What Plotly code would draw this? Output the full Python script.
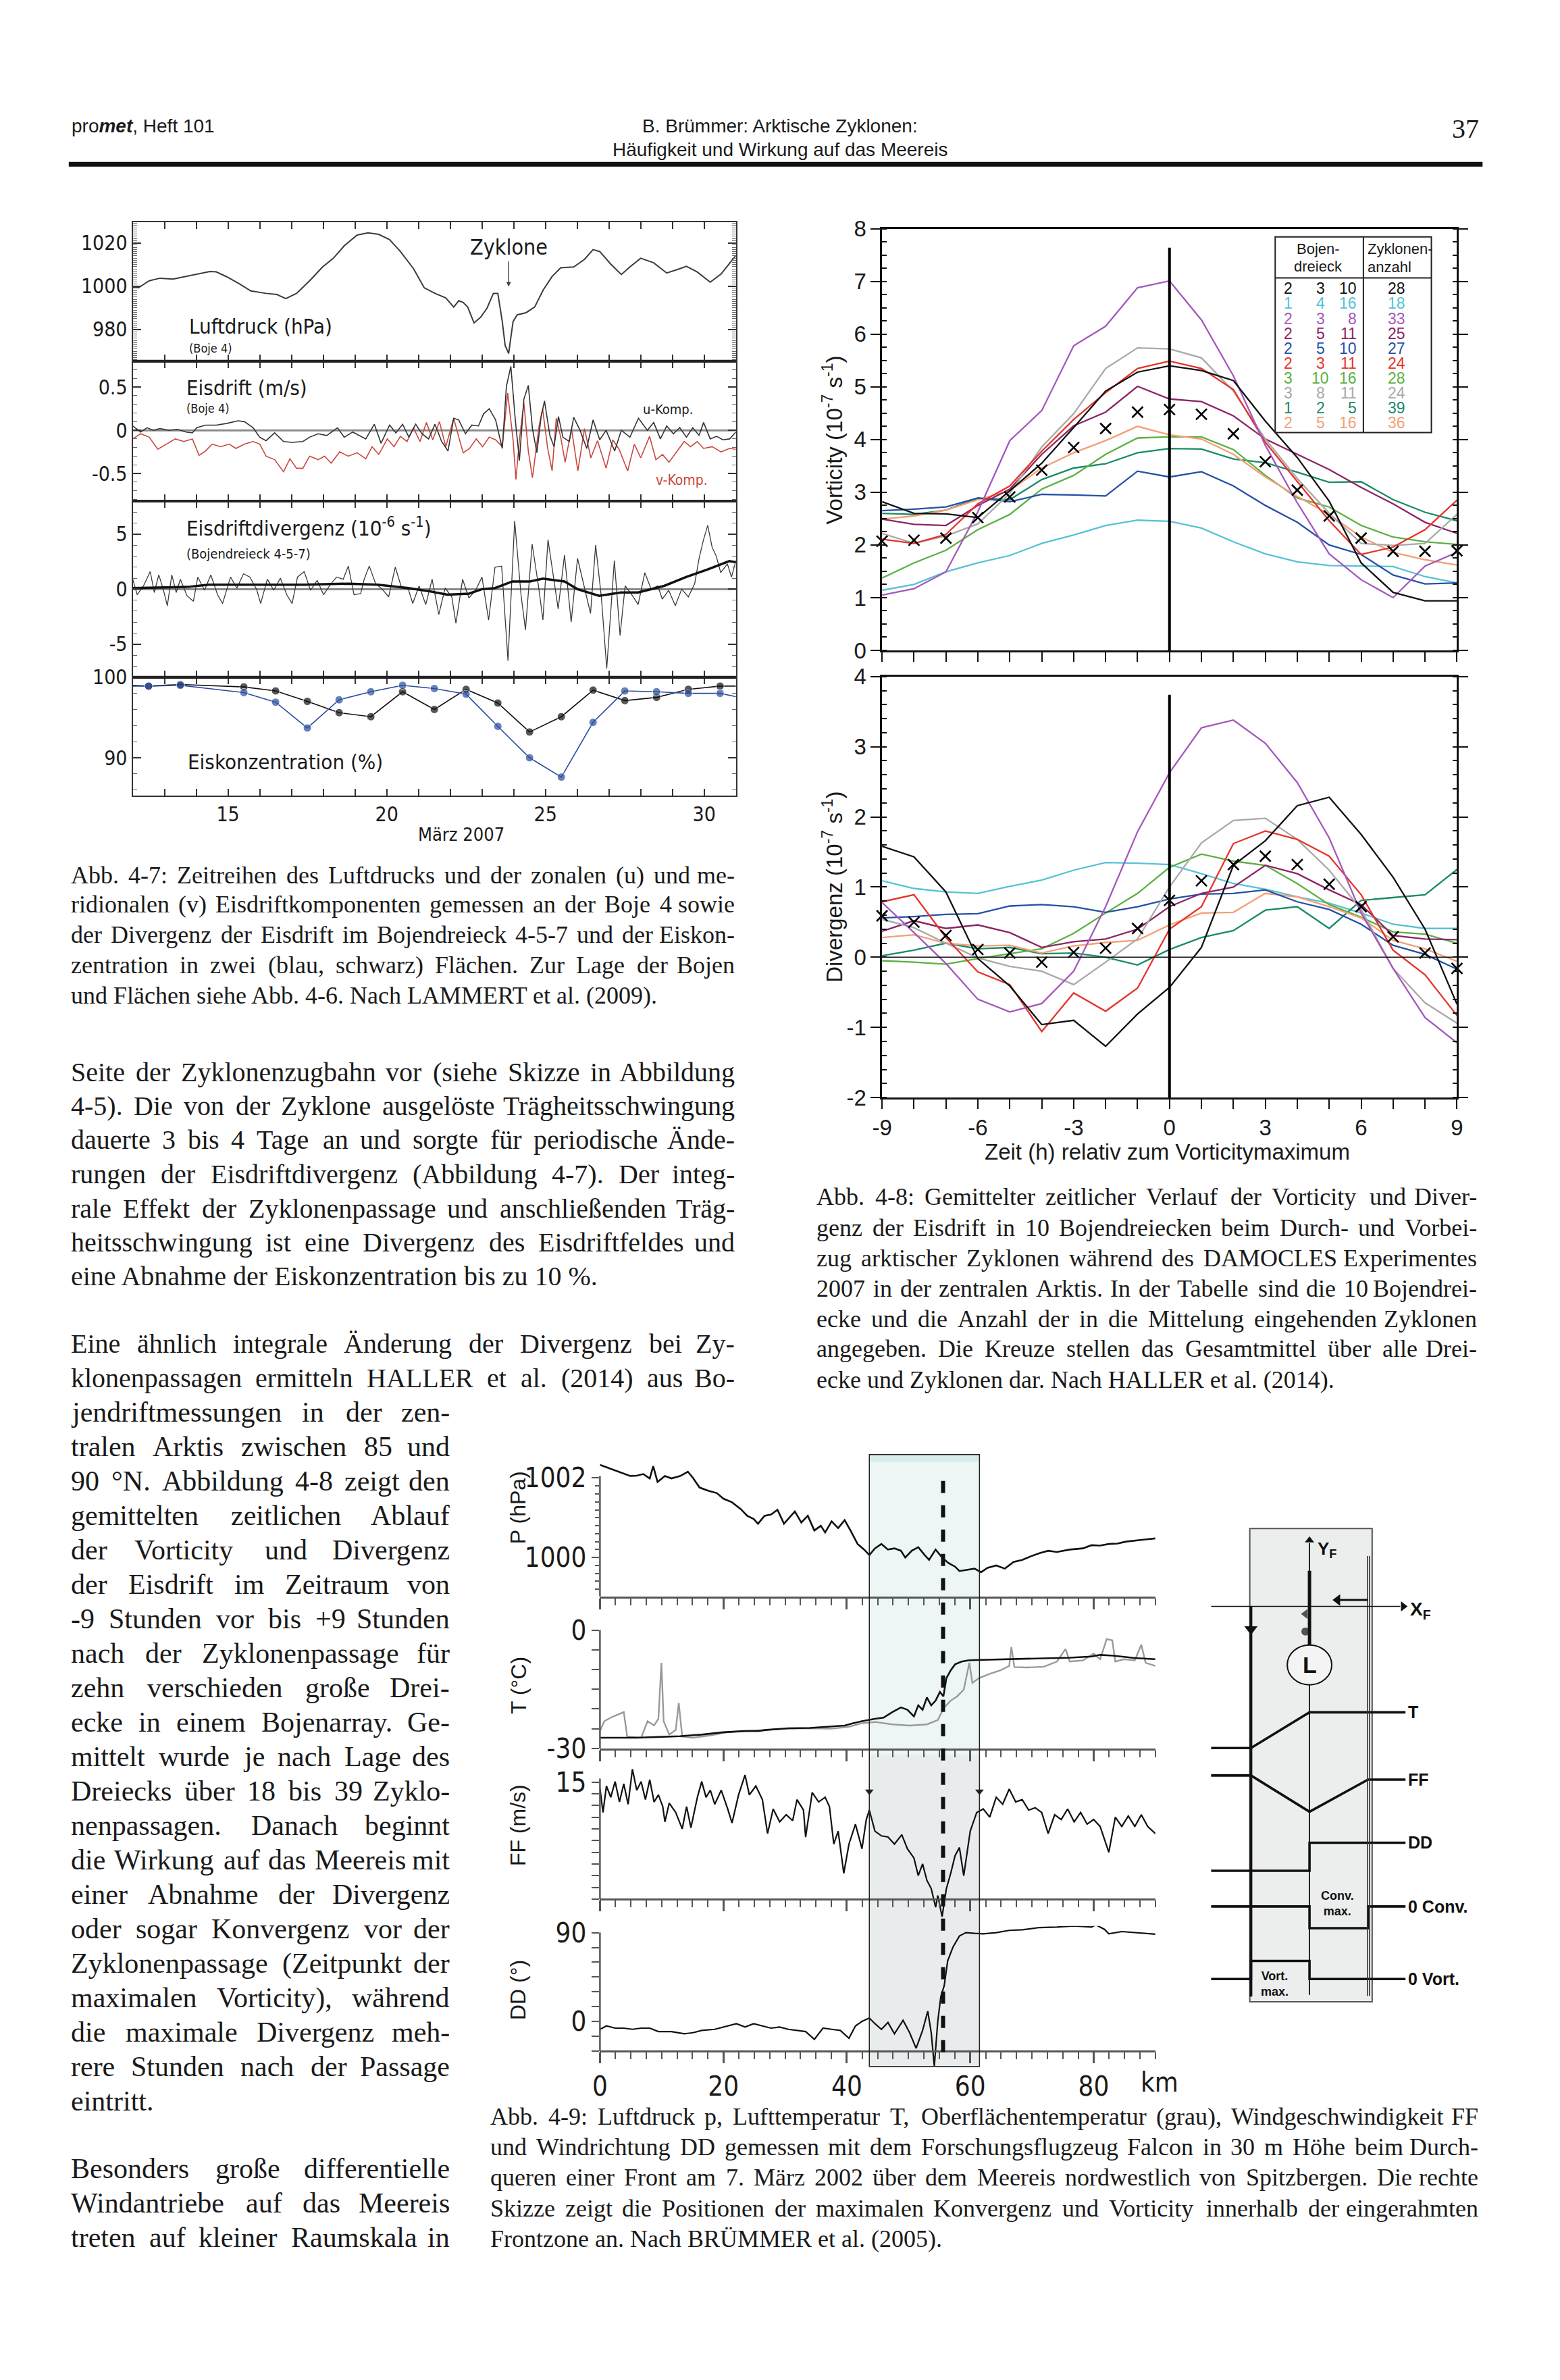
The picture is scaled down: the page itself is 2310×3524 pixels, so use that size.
import plotly.graph_objects as go

W, H = 2310, 3524
# layout positions below are page pixels; small calibration to the rendered page
def _cal(p): return 1.00735 * p - 17.0
def fx(p): return _cal(p) / W
def fy(p): return 1.0 - _cal(p) / H

SANS = "Liberation Sans, Arial, Helvetica, sans-serif"
NARROW = "Liberation Sans Narrow, Arial Narrow, DejaVu Sans Condensed, Liberation Sans, sans-serif"
SERIF = "Liberation Serif, Times New Roman, serif"
INK = "#1a1a1a"

# ------------------------------------------------------------------ Abb. 4-7 data
p_days = [12.00, 12.18, 12.52, 12.86, 13.27, 13.61, 14.02, 14.43, 14.63, 14.97, 15.38, 15.72, 16.20, 16.54, 16.82,
          17.16, 17.57, 17.98, 18.32, 18.66, 19.07, 19.41, 19.75, 20.09, 20.43, 20.84, 21.18, 21.52, 21.86, 22.11,
          22.27, 22.41, 22.55, 22.75, 22.96, 23.16, 23.36, 23.50, 23.64, 23.73, 23.84, 23.98, 24.11, 24.39, 24.66,
          24.93, 25.21, 25.48, 25.89, 26.23, 26.50, 26.71, 27.05, 27.39, 27.66, 28.00, 28.41, 28.82, 29.16, 29.44,
          29.78, 30.19, 30.53, 31.00]
p_hpa = [999.5, 999.3, 1002.5, 1003.7, 1003.3, 1004.3, 1005.4, 1006.8, 1006.6, 1004.3, 1000.9, 997.8, 996.7, 996.2, 994.3,
         996.7, 1002.5, 1008.9, 1012.9, 1018.6, 1023.6, 1024.6, 1023.9, 1021.5, 1016.0, 1008.2, 999.3, 996.7, 994.6, 990.4,
         993.3, 992.5, 990.4, 983.1, 985.7, 989.9, 996.7, 996.7, 983.7, 972.7, 969.0, 983.7, 986.8, 987.8, 990.4,
         998.3, 1004.5, 1008.5, 1008.9, 1012.4, 1016.9, 1016.0, 1010.3, 1005.4, 1008.9, 1012.9, 1010.8, 1006.1, 1007.7, 1009.2,
         1006.6, 1001.9, 1005.6, 1014.2]

u_days = [12.00, 12.25, 12.45, 12.65, 12.86, 13.13, 13.41, 13.68, 13.88, 14.02, 14.29, 14.63, 14.97, 15.32, 15.52,
          15.79, 16.00, 16.20, 16.47, 16.75, 17.02, 17.36, 17.57, 17.84, 18.11, 18.45, 18.66, 18.93, 19.34, 19.61,
          19.82, 20.09, 20.29, 20.50, 20.70, 20.91, 21.11, 21.32, 21.52, 21.73, 21.93, 22.11, 22.27, 22.48, 22.68,
          22.89, 23.05, 23.23, 23.43, 23.64, 23.77, 23.91, 24.05, 24.18, 24.32, 24.46, 24.59, 24.73, 24.86, 24.97,
          25.14, 25.27, 25.41, 25.55, 25.75, 25.89, 26.09, 26.30, 26.50, 26.71, 26.91, 27.18, 27.39, 27.66, 27.93,
          28.21, 28.41, 28.62, 28.82, 29.03, 29.23, 29.44, 29.64, 29.84, 29.98, 30.19, 30.39, 30.59, 30.80, 31.00]
u_ms = [0.05, -0.02, 0.03, 0.00, 0.02, 0.00, 0.01, -0.02, -0.03, 0.03, 0.06, 0.06, 0.08, 0.11, 0.10,
        0.03, -0.08, -0.12, -0.03, -0.13, -0.14, -0.13, -0.08, -0.04, -0.06, 0.03, -0.08, -0.02, -0.10, 0.07,
        -0.15, 0.06, -0.03, 0.07, -0.08, 0.07, -0.04, -0.10, 0.07, -0.13, -0.24, 0.14, 0.12, -0.04, 0.06,
        0.05, 0.19, 0.25, 0.12, -0.21, 0.51, 0.74, 0.12, -0.35, 0.36, 0.52, 0.02, -0.26, 0.15, 0.34,
        -0.06, -0.19, 0.16, -0.08, -0.13, 0.15, 0.00, -0.21, 0.12, -0.11, 0.00, -0.24, 0.00, -0.08, 0.14,
        0.00, 0.09, -0.10, 0.05, -0.04, 0.03, -0.08, 0.03, -0.06, 0.09, -0.10, -0.07, -0.11, -0.10, -0.02]

v_days = [12.00, 12.25, 12.52, 12.79, 13.06, 13.34, 13.61, 13.88, 14.09, 14.29, 14.50, 14.77, 15.04, 15.25, 15.52,
          15.79, 16.00, 16.20, 16.47, 16.75, 16.95, 17.16, 17.36, 17.57, 17.84, 18.04, 18.25, 18.52, 18.79, 19.07,
          19.34, 19.54, 19.75, 20.02, 20.23, 20.43, 20.64, 20.84, 21.05, 21.25, 21.45, 21.66, 21.86, 22.11, 22.27,
          22.41, 22.61, 22.82, 23.02, 23.23, 23.43, 23.64, 23.81, 23.98, 24.07, 24.18, 24.32, 24.46, 24.59, 24.80,
          24.91, 25.07, 25.21, 25.34, 25.48, 25.62, 25.82, 26.02, 26.23, 26.43, 26.64, 26.91, 27.12, 27.32, 27.59,
          27.80, 28.00, 28.28, 28.48, 28.69, 28.89, 29.16, 29.37, 29.57, 29.78, 29.98, 30.25, 30.53, 30.80, 31.00]
v_ms = [-0.10, -0.04, -0.08, -0.22, -0.16, -0.10, -0.13, -0.10, -0.29, -0.24, -0.16, -0.19, -0.16, -0.21, -0.16,
        -0.13, -0.16, -0.30, -0.34, -0.48, -0.33, -0.44, -0.44, -0.30, -0.34, -0.30, -0.38, -0.25, -0.30, -0.26,
        -0.33, -0.19, -0.28, -0.10, -0.19, -0.07, -0.13, 0.03, -0.13, 0.09, -0.11, 0.10, -0.19, 0.14, -0.08,
        -0.26, -0.21, -0.10, -0.19, -0.08, -0.11, -0.19, 0.43, -0.11, -0.57, -0.11, 0.32, -0.24, -0.55, 0.05,
        0.25, -0.21, -0.47, 0.14, -0.08, -0.37, 0.02, -0.47, 0.02, -0.32, -0.12, -0.44, -0.11, -0.22, -0.47,
        -0.16, -0.32, -0.07, -0.34, -0.28, -0.37, -0.24, -0.13, -0.19, -0.13, -0.21, -0.19, -0.25, -0.21, -0.22]

div_days = [12.00, 12.14, 12.34, 12.55, 12.68, 12.82, 12.96, 13.09, 13.23, 13.37, 13.50, 13.71, 13.91, 14.05, 14.26,
            14.46, 14.67, 14.83, 15.08, 15.28, 15.49, 15.69, 15.90, 16.03, 16.24, 16.44, 16.65, 16.85, 17.02, 17.19,
            17.40, 17.60, 17.81, 18.01, 18.22, 18.42, 18.63, 18.79, 18.97, 19.18, 19.29, 19.45, 19.65, 19.86, 20.06,
            20.27, 20.47, 20.68, 20.82, 21.02, 21.23, 21.43, 21.64, 21.84, 22.05, 22.18, 22.39, 22.59, 22.80, 23.00,
            23.21, 23.41, 23.62, 23.82, 24.03, 24.23, 24.37, 24.58, 24.78, 24.92, 25.08, 25.26, 25.40, 25.60, 25.81,
            26.01, 26.22, 26.42, 26.58, 26.76, 26.93, 27.17, 27.35, 27.51, 27.72, 27.92, 28.13, 28.33, 28.54, 28.68,
            28.88, 29.09, 29.29, 29.50, 29.70, 29.84, 29.97, 30.11, 30.25, 30.38, 30.52, 30.73, 30.86, 31.00]
div_raw = [0.9, -0.5, 0.3, 1.6, -0.3, 1.3, 0.0, -1.5, 1.3, -0.3, 0.9, -0.6, -1.1, 1.1, -0.1,
           1.3, -0.5, -1.3, 1.1, 0.1, 1.4, 1.1, 0.0, -1.3, 0.9, -0.1, 1.0, -0.5, -1.3, 1.1,
           1.6, -0.1, 0.8, -0.5, 0.4, 1.1, 0.9, 2.1, -0.5, -0.4, 0.9, 2.1, 0.5, 0.0, -0.7,
           2.0, 0.1, 0.0, -1.3, 0.3, -1.4, 0.9, -2.3, 0.1, -0.7, -3.1, 0.9, -0.8, -0.1, 1.1,
           -2.8, 2.0, 2.1, -6.5, 6.2, -0.5, -3.7, 4.1, 0.3, -2.8, 4.5, 1.1, -1.8, 3.1, -3.0,
           2.8, 0.3, -2.2, 4.0, -0.7, -7.2, 2.6, -4.2, 0.3, -0.5, -1.4, 1.5, 0.0, 0.3, -0.9,
           -0.1, -1.5, 0.0, -0.7, 0.5, 2.8, 4.4, 5.8, 3.8, 3.0, 1.5, 2.3, 1.1, 2.6]
divs_days = [12.00, 13.71, 14.39, 16.03, 17.40, 18.77, 19.72, 20.68, 21.36, 21.91, 22.59, 23.00, 23.41,
             23.96, 24.51, 24.92, 25.60, 26.01, 26.69, 27.38, 27.92, 28.74, 29.43, 30.11, 30.79, 31.00]
div_smooth = [0.1, 0.2, 0.4, 0.4, 0.4, 0.5, 0.4, 0.1, -0.2, -0.5, -0.4, 0.0, 0.1,
              0.7, 0.7, 0.96, 0.7, 0.0, -0.6, -0.3, -0.3, 0.3, 1.1, 1.8, 2.55, 2.45]

conc_days = [12.0, 12.5, 13.5, 15.5, 16.5, 17.5, 18.5, 19.5, 20.5, 21.5, 22.5, 23.5, 24.5, 25.5, 26.5,
             27.5, 28.5, 29.5, 30.5, 31.0]
conc_black = [99.0, 98.9, 99.1, 98.8, 98.3, 97.0, 95.6, 95.1, 98.2, 96.0, 98.5, 96.8, 93.2, 95.1, 98.4,
              97.1, 97.5, 98.5, 98.9, 98.9]
conc_blue = [98.9, 98.9, 99.0, 98.1, 96.9, 93.7, 97.2, 98.2, 99.0, 98.6, 97.9, 93.9, 90.0, 87.6, 94.4,
             98.3, 98.2, 98.0, 98.0, 97.6]

# ------------------------------------------------------------------ Abb. 4-8 data
hours = list(range(-9, 10))
triangles = [(2, 3, 10), (1, 4, 16), (2, 3, 8), (2, 5, 11), (2, 5, 10),
             (2, 3, 11), (3, 10, 16), (3, 8, 11), (1, 2, 5), (2, 5, 16)]
cyclone_counts = [28, 18, 33, 25, 27, 24, 28, 24, 39, 36]
tri_colors = ["#111111", "#56c2d6", "#a557bd", "#8c2467", "#2451a6",
              "#e5342a", "#5cb043", "#a9a9a9", "#1a8a69", "#f3a077"]

vort_2_3_10 = [2.82, 2.60, 2.59, 2.52, 3.03, 3.55, 4.23, 4.92, 5.28, 5.40, 5.31, 5.12, 4.35, 3.66, 2.83, 1.66, 1.10, 0.94, 0.94]
vort_1_4_16 = [1.14, 1.25, 1.49, 1.66, 1.80, 2.03, 2.19, 2.37, 2.47, 2.45, 2.32, 2.06, 1.83, 1.68, 1.61, 1.60, 1.59, 1.40, 1.28]
vort_2_3_8 = [1.05, 1.17, 1.49, 2.63, 3.98, 4.55, 5.78, 6.15, 6.88, 7.01, 6.27, 5.21, 3.89, 2.80, 1.83, 1.34, 1.00, 1.60, 1.86]
vort_2_5_11 = [2.49, 2.39, 2.37, 2.75, 3.06, 3.72, 4.26, 4.52, 5.01, 4.77, 4.72, 4.45, 4.01, 3.72, 3.43, 3.09, 2.78, 2.43, 2.22]
vort_2_5_10 = [2.65, 2.68, 2.72, 2.89, 2.82, 2.96, 2.95, 2.93, 3.40, 3.29, 3.39, 3.12, 2.75, 2.43, 2.00, 1.82, 1.43, 1.26, 1.28]
vort_2_3_11 = [2.11, 2.03, 2.20, 2.78, 3.12, 3.78, 4.38, 4.89, 5.35, 5.49, 5.35, 4.95, 3.95, 3.20, 2.46, 1.82, 1.96, 2.29, 2.85]
vort_3_10_16 = [1.37, 1.66, 1.90, 2.29, 2.58, 3.06, 3.32, 3.72, 4.03, 4.05, 4.05, 3.81, 3.32, 2.89, 2.72, 2.37, 2.15, 2.06, 2.01]
vort_3_8_11 = [2.22, 2.03, 2.17, 2.40, 2.98, 3.86, 4.49, 5.35, 5.74, 5.72, 5.55, 4.92, 4.01, 3.26, 2.60, 2.03, 1.99, 2.03, 2.58]
vort_1_2_5 = [2.60, 2.58, 2.66, 2.89, 2.86, 3.24, 3.46, 3.54, 3.75, 3.83, 3.82, 3.63, 3.56, 3.38, 3.19, 3.20, 2.86, 2.62, 2.46]
vort_2_5_16 = [2.49, 2.55, 2.66, 2.86, 3.03, 3.46, 3.75, 3.98, 4.25, 4.09, 4.01, 3.72, 3.29, 2.92, 2.58, 2.15, 1.86, 1.72, 1.62]
vort_mean = [2.07, 2.09, 2.13, 2.52, 2.91, 3.42, 3.85, 4.21, 4.52, 4.57, 4.48, 4.11, 3.58, 3.04, 2.55, 2.13, 1.88, 1.88, 1.89]

div_2_3_10 = [1.58, 1.43, 0.93, -0.02, -0.41, -0.96, -0.90, -1.27, -0.81, -0.43, 0.14, 1.31, 1.66, 2.16, 2.28, 1.75, 1.14, 0.40, -0.67]
div_1_4_16 = [1.09, 0.98, 0.93, 0.91, 1.01, 1.10, 1.24, 1.35, 1.34, 1.32, 1.19, 1.05, 0.97, 0.86, 0.77, 0.63, 0.47, 0.41, 0.41]
div_2_3_8 = [0.78, 0.35, -0.09, -0.60, -0.78, -0.66, -0.20, 0.72, 1.79, 2.63, 3.27, 3.38, 3.05, 2.49, 1.70, 0.63, -0.16, -0.86, -1.22]
div_2_5_11 = [0.37, 0.52, 0.41, 0.46, 0.35, 0.14, 0.22, 0.26, 0.40, 0.72, 0.91, 1.00, 1.31, 1.19, 0.96, 0.75, 0.31, 0.26, 0.25]
div_2_5_10 = [0.56, 0.58, 0.61, 0.62, 0.73, 0.75, 0.72, 0.64, 0.72, 0.83, 0.90, 0.91, 0.96, 0.79, 0.68, 0.47, 0.17, 0.04, -0.17]
div_2_3_11 = [0.79, 0.89, 0.28, -0.21, -0.39, -1.06, -0.51, -0.77, -0.44, 0.40, 0.72, 1.62, 1.80, 1.68, 1.44, 0.89, 0.10, -0.25, -0.83]
div_3_10_16 = [-0.05, -0.07, -0.10, -0.02, 0.05, 0.12, 0.34, 0.63, 0.91, 1.28, 1.47, 1.37, 1.31, 1.05, 0.75, 0.57, 0.36, 0.33, 0.20]
div_3_8_11 = [0.54, 0.42, 0.20, -0.01, -0.13, -0.20, -0.39, -0.07, 0.26, 1.00, 1.63, 1.95, 1.98, 1.68, 1.24, 0.68, -0.16, -0.65, -0.94]
div_1_2_5 = [0.02, 0.10, 0.20, 0.12, 0.14, 0.05, 0.06, 0.00, -0.11, 0.11, 0.28, 0.38, 0.67, 0.72, 0.41, 0.81, 0.85, 0.89, 1.25]
div_2_5_16 = [0.28, 0.32, 0.20, 0.16, 0.17, 0.06, 0.16, 0.21, 0.24, 0.46, 0.63, 0.64, 0.91, 0.86, 0.72, 0.56, 0.24, 0.12, -0.06]
div_mean = [0.59, 0.50, 0.31, 0.11, 0.06, -0.07, 0.07, 0.13, 0.41, 0.81, 1.09, 1.32, 1.44, 1.32, 1.04, 0.72, 0.29, 0.06, -0.16]

vort_series = [vort_2_3_10, vort_1_4_16, vort_2_3_8, vort_2_5_11, vort_2_5_10,
               vort_2_3_11, vort_3_10_16, vort_3_8_11, vort_1_2_5, vort_2_5_16]
div_series = [div_2_3_10, div_1_4_16, div_2_3_8, div_2_5_11, div_2_5_10,
              div_2_3_11, div_3_10_16, div_3_8_11, div_1_2_5, div_2_5_16]

# ------------------------------------------------------------------ Abb. 4-9 data
p_km = [0.0, 1.05, 2.46, 3.86, 4.91, 5.96, 7.02, 8.07, 8.63, 9.33, 10.53, 11.58, 12.98, 14.25, 15.09, 16.14, 17.54,
        18.95, 20.0, 21.40, 22.81, 23.86, 24.91, 25.61, 26.67, 27.72, 28.77, 29.82, 30.53, 31.58, 32.63, 33.68, 34.74,
        35.79, 36.49, 37.54, 38.60, 39.65, 40.70, 41.75, 42.81, 43.65, 44.56, 45.61, 46.67, 47.72, 48.77, 49.47, 50.53,
        51.58, 52.63, 53.33, 54.39, 55.44, 56.49, 57.54, 58.25, 59.30, 60.70, 61.75, 62.81, 64.21, 65.61, 67.02, 68.42,
        69.82, 71.23, 72.63, 74.04, 76.14, 78.25, 79.65, 81.05, 82.46, 83.86, 85.26, 86.67, 88.07, 90.0]
p_air = [1002.33, 1002.27, 1002.19, 1002.10, 1002.05, 1002.06, 1002.10, 1001.99, 1002.30, 1001.90, 1002.05, 1001.99,
         1002.05, 1002.16, 1002.00, 1001.76, 1001.68, 1001.62, 1001.48, 1001.39, 1001.22, 1001.05, 1000.97, 1000.85,
         1001.05, 1001.08, 1001.20, 1000.85, 1000.97, 1001.16, 1000.88, 1001.05, 1000.68, 1000.80, 1000.63, 1000.91,
         1000.74, 1000.94, 1000.65, 1000.34, 1000.20, 1000.06, 1000.23, 1000.34, 1000.20, 1000.23, 1000.17, 1000.00,
         1000.17, 1000.26, 1000.06, 999.94, 1000.20, 1000.00, 999.86, 999.77, 999.66, 999.69, 999.72, 999.63, 999.74,
         999.80, 999.72, 999.89, 999.94, 1000.03, 1000.11, 1000.17, 1000.14, 1000.20, 1000.23, 1000.31, 1000.30,
         1000.34, 1000.35, 1000.40, 1000.43, 1000.45, 1000.48]

t_km = [0.0, 2.46, 5.96, 9.47, 12.98, 16.49, 20.0, 23.51, 25.61, 27.02, 30.53, 34.04, 37.54, 39.65, 41.05, 42.46,
        44.56, 45.96, 47.37, 48.77, 49.82, 50.88, 51.58, 52.28, 52.98, 53.68, 54.39, 55.09, 55.65, 56.14, 56.84,
        57.54, 58.60, 59.65, 60.70, 65.61, 72.63, 76.14, 79.65, 81.05, 83.16, 86.67, 90.0]
t_air = [-27.3, -27.3, -27.3, -27.1, -26.9, -26.5, -25.9, -25.6, -25.6, -25.3, -24.9, -24.8, -24.5, -24.2, -23.6,
         -23.1, -22.5, -22.2, -20.8, -19.6, -20.2, -21.9, -19.1, -20.2, -17.1, -19.1, -17.9, -15.7, -16.8, -12.2,
         -10.2, -8.7, -8.0, -7.7, -7.6, -7.4, -7.2, -7.0, -6.7, -6.3, -6.5, -7.1, -7.4]
ts_km = [0.0, 0.70, 1.75, 3.16, 3.86, 4.42, 6.67, 7.72, 8.77, 9.47, 9.96, 10.32, 11.23, 12.28, 12.77, 13.33, 15.09,
         17.89, 20.70, 23.51, 27.02, 30.53, 34.04, 37.54, 40.35, 42.46, 44.56, 47.37, 50.18, 52.98, 54.74, 55.79,
         56.84, 57.89, 58.95, 59.86, 60.35, 61.40, 63.16, 64.91, 66.32, 66.67, 67.16, 69.12, 71.93, 74.04, 75.44,
         76.14, 78.25, 80.0, 81.05, 82.11, 83.02, 83.51, 84.91, 86.67, 87.72, 88.42, 90.0]
t_surface = [-25.6, -23.1, -22.2, -21.3, -20.8, -27.0, -27.3, -23.1, -24.2, -22.5, -8.3, -23.1, -26.5, -25.3, -18.5,
             -27.0, -27.3, -26.7, -25.9, -25.6, -25.3, -25.0, -24.9, -25.0, -24.5, -23.6, -23.3, -23.9, -24.2, -23.9,
             -22.8, -19.6, -17.9, -16.8, -15.1, -8.3, -13.4, -12.2, -11.1, -10.2, -9.1, -4.3, -9.4, -9.5, -9.3,
             -8.0, -4.8, -8.0, -7.7, -6.0, -7.4, -2.3, -2.6, -8.0, -7.4, -7.7, -3.7, -8.3, -9.1]

ff_km = [0.0, 0.49, 1.05, 1.75, 2.46, 3.16, 3.86, 4.56, 5.26, 5.96, 6.67, 7.37, 8.07, 8.77, 9.47, 10.18, 10.53, 11.23,
         12.28, 13.33, 14.04, 14.74, 15.79, 16.49, 17.19, 17.89, 18.60, 19.65, 20.70, 21.40, 22.46, 23.51, 24.21,
         25.26, 26.32, 27.16, 28.07, 29.12, 30.18, 31.23, 31.93, 32.98, 33.33, 34.39, 35.44, 36.49, 37.19, 37.89,
         38.60, 39.51, 40.35, 41.40, 42.46, 43.16, 43.65, 44.56, 45.61, 46.67, 47.72, 48.91, 49.82, 50.88, 51.58,
         52.28, 52.98, 53.68, 54.39, 54.74, 55.44, 56.14, 56.84, 57.54, 58.25, 58.95, 60.0, 61.05, 62.11, 63.16,
         64.21, 65.26, 66.32, 67.37, 68.42, 69.47, 70.53, 71.58, 72.63, 73.68, 74.74, 75.79, 76.84, 77.89, 78.95,
         80.0, 81.05, 82.46, 83.51, 84.56, 85.61, 86.67, 87.72, 88.77, 90.0]
ff_ms = [14.46, 12.4, 14.66, 13.7, 15.04, 13.3, 14.85, 13.1, 16.1, 14.3, 15.04, 13.5, 15.2, 13.3, 13.9, 12.9, 11.6,
         13.2, 12.4, 11.0, 12.9, 11.1, 13.7, 15.04, 13.7, 14.3, 13.1, 14.3, 12.7, 11.5, 13.9, 15.6, 13.9, 14.66,
         13.5, 10.6, 12.7, 11.6, 12.2, 11.7, 13.5, 12.6, 10.3, 14.1, 13.3, 13.7, 12.9, 9.7, 10.8, 7.2, 9.7, 11.4,
         9.3, 11.8, 12.6, 10.8, 10.4, 10.3, 9.7, 10.5, 9.3, 8.5, 7.0, 8.0, 6.6, 5.9, 4.3, 5.3, 3.5, 5.9, 7.2, 8.7,
         9.4, 7.0, 10.8, 12.4, 12.7, 12.0, 13.7, 13.1, 14.4, 13.3, 13.5, 12.6, 12.8, 12.4, 10.6, 12.2, 11.8, 12.7,
         11.6, 12.4, 11.4, 11.8, 11.2, 9.0, 12.0, 11.2, 12.1, 11.2, 12.2, 11.2, 10.6]

dd_km = [0.0, 1.05, 2.46, 3.86, 5.26, 6.67, 8.07, 9.47, 11.58, 13.68, 15.09, 16.49, 18.60, 20.70, 22.11, 23.51, 24.91,
         26.32, 27.72, 29.12, 30.53, 31.93, 33.33, 34.74, 36.14, 37.54, 38.95, 40.35, 41.40, 42.46, 43.65, 44.56,
         45.61, 46.67, 47.72, 49.12, 50.18, 51.23, 52.28, 53.12, 53.68, 54.18, 54.74, 55.23, 55.79, 56.35, 57.19,
         58.25, 59.30, 60.70, 62.11, 64.21, 66.32, 68.42, 71.23, 74.04, 76.84, 79.65, 80.35, 81.75, 82.46, 84.56,
         86.67, 88.77, 90.0]
dd_deg = [-8.0, -4.6, -6.8, -6.8, -8.0, -6.8, -6.8, -10.3, -10.3, -12.5, -11.4, -9.1, -8.0, -4.6, -2.3, -5.7, -2.3,
          -4.6, -6.8, -5.7, -8.0, -9.1, -10.3, -18.2, -6.8, -8.0, -9.1, -17.1, -4.6, 0.0, 3.4, -2.3, -8.0, -1.1,
          -12.5, 1.1, -11.4, -27.3, -9.1, 10.3, -11.4, -45.6, 0.0, 25.1, 36.4, 61.5, 75.2, 86.6, 90.0, 89.3, 88.8,
          90.0, 92.3, 92.9, 95.2, 95.7, 96.8, 95.7, 97.9, 93.4, 88.8, 91.1, 90.0, 88.8, 88.4]

front_zone_km = [43.65, 61.5]   # framed front zone
front_line_km = 55.6            # dashed line

# ------------------------------------------------------------------ text
header_left = "pro<b><i>met</i></b>, Heft 101"
header_mid = ["B. Brümmer: Arktische Zyklonen:", "Häufigkeit und Wirkung auf das Meereis"]
page_no = "37"

caption47 = ["Abb. 4-7: Zeitreihen des Luftdrucks und der zonalen (u) und me-",
             "ridionalen (v) Eisdriftkomponenten gemessen an der Boje 4 sowie",
             "der Divergenz der Eisdrift im Bojendreieck 4-5-7 und der Eiskon-",
             "zentration in zwei (blau, schwarz) Flächen. Zur Lage der Bojen",
             "und Flächen siehe Abb. 4-6. Nach LAMMERT et al. (2009)."]
body1 = ["Seite der Zyklonenzugbahn vor (siehe Skizze in Abbildung",
         "4-5). Die von der Zyklone ausgelöste Trägheitsschwingung",
         "dauerte 3 bis 4 Tage an und sorgte für periodische Ände-",
         "rungen der Eisdriftdivergenz (Abbildung 4-7). Der integ-",
         "rale Effekt der Zyklonenpassage und anschließenden Träg-",
         "heitsschwingung ist eine Divergenz des Eisdriftfeldes und",
         "eine Abnahme der Eiskonzentration bis zu 10 %."]
caption48 = ["Abb. 4-8: Gemittelter zeitlicher Verlauf der Vorticity und Diver-",
             "genz der Eisdrift in 10 Bojendreiecken beim Durch- und Vorbei-",
             "zug arktischer Zyklonen während des DAMOCLES Experimentes",
             "2007 in der zentralen Arktis. In der Tabelle sind die 10 Bojendrei-",
             "ecke und die Anzahl der in die Mittelung eingehenden Zyklonen",
             "angegeben. Die Kreuze stellen das Gesamtmittel über alle Drei-",
             "ecke und Zyklonen dar. Nach HALLER et al. (2014)."]
body2 = ["Eine ähnlich integrale Änderung der Divergenz bei Zy-",
         "klonenpassagen ermitteln HALLER et al. (2014) aus Bo-",
         "jendriftmessungen in der zen-",
         "tralen Arktis zwischen 85 und",
         "90 °N. Abbildung 4-8 zeigt den",
         "gemittelten zeitlichen Ablauf",
         "der Vorticity und Divergenz",
         "der Eisdrift im Zeitraum von",
         "-9 Stunden vor bis +9 Stunden",
         "nach der Zyklonenpassage für",
         "zehn verschieden große Drei-",
         "ecke in einem Bojenarray. Ge-",
         "mittelt wurde je nach Lage des",
         "Dreiecks über 18 bis 39 Zyklo-",
         "nenpassagen. Danach beginnt",
         "die Wirkung auf das Meereis mit",
         "einer Abnahme der Divergenz",
         "oder sogar Konvergenz vor der",
         "Zyklonenpassage (Zeitpunkt der",
         "maximalen Vorticity), während",
         "die maximale Divergenz meh-",
         "rere Stunden nach der Passage",
         "eintritt.",
         "Besonders große differentielle",
         "Windantriebe auf das Meereis",
         "treten auf kleiner Raumskala in"]
caption49 = ["Abb. 4-9: Luftdruck p, Lufttemperatur T, Oberflächentemperatur (grau), Windgeschwindigkeit FF",
             "und Windrichtung DD gemessen mit dem Forschungsflugzeug Falcon in 30 m Höhe beim Durch-",
             "queren einer Front am 7. März 2002 über dem Meereis nordwestlich von Spitzbergen. Die rechte",
             "Skizze zeigt die Positionen der maximalen Konvergenz und Vorticity innerhalb der eingerahmten",
             "Frontzone an. Nach BRÜMMER et al. (2005)."]

# ------------------------------------------------------------------ helpers
fig = go.Figure()
layout = dict(width=W, height=H, autosize=False, margin=dict(l=0, r=0, t=0, b=0),
              paper_bgcolor="white", plot_bgcolor="rgba(0,0,0,0)", showlegend=False)
ann = []
shp = []


def ids(i):
    return ("x" if i == 1 else "x%d" % i), ("y" if i == 1 else "y%d" % i)


def add_axes(i, xdom, ydom, xkw, ykw):
    xs, ys = ids(i)
    xa = dict(domain=xdom, anchor=ys, showgrid=False, zeroline=False)
    xa.update(xkw)
    ya = dict(domain=ydom, anchor=xs, showgrid=False, zeroline=False)
    ya.update(ykw)
    layout["xaxis" + xs[1:]] = xa
    layout["yaxis" + ys[1:]] = ya


def line_trace(i, x, y, color, width, **kw):
    xs, ys = ids(i)
    fig.add_trace(go.Scatter(x=x, y=y, xaxis=xs, yaxis=ys, mode="lines",
                             line=dict(color=color, width=width), hoverinfo="skip", **kw))


def marker_trace(i, x, y, symbols, size, color="#111"):
    xs, ys = ids(i)
    fig.add_trace(go.Scatter(x=x, y=y, xaxis=xs, yaxis=ys, mode="markers", cliponaxis=False,
                             marker=dict(symbol=symbols, size=size, color=color, line=dict(width=0)),
                             hoverinfo="skip"))


def text(s, xp, yp, size, family=SANS, color=INK, xanchor="left", yanchor="middle", angle=0):
    ann.append(dict(text=s, x=fx(xp), y=fy(yp), xref="paper", yref="paper", showarrow=False,
                    xanchor=xanchor, yanchor=yanchor, textangle=angle,
                    font=dict(family=family, size=size, color=color)))


TW = {' ': 250, 'a': 444, 'b': 500, 'c': 444, 'd': 500, 'e': 444, 'f': 333, 'g': 500, 'h': 500, 'i': 278,
      'j': 278, 'k': 500, 'l': 278, 'm': 778, 'n': 500, 'o': 500, 'p': 500, 'q': 500, 'r': 333, 's': 389,
      't': 278, 'u': 500, 'v': 500, 'w': 722, 'x': 500, 'y': 500, 'z': 444,
      'A': 722, 'B': 667, 'C': 667, 'D': 722, 'E': 611, 'F': 556, 'G': 722, 'H': 722, 'I': 333, 'J': 389,
      'K': 722, 'L': 611, 'M': 889, 'N': 722, 'O': 722, 'P': 556, 'Q': 722, 'R': 667, 'S': 556, 'T': 611,
      'U': 722, 'V': 722, 'W': 944, 'X': 722, 'Y': 722, 'Z': 611, '.': 250, ',': 250, '-': 333, '(': 333,
      ')': 333, ':': 278, '°': 400, '%': 833, '+': 564, 'ä': 444, 'ö': 500, 'ü': 500, 'Ä': 722, 'Ö': 722,
      'Ü': 722, 'ß': 500}


def tw(s, size):
    return sum(TW.get(c, 500) for c in s) / 1000.0 * size


def para_line(s, x0, x1, y, size, justify=True):
    words = s.split(" ")
    if not justify or len(words) < 2:
        text(s, x0, y, size, family=SERIF)
        return
    widths = [tw(w, size) for w in words]
    gap = (x1 - x0 - sum(widths)) / (len(words) - 1)
    pos = x0
    for k, w in enumerate(words):
        if k == len(words) - 1:
            text(w, x1, y, size, family=SERIF, xanchor="right")
        else:
            text(w, pos, y, size, family=SERIF)
        pos += widths[k] + gap


def paragraph(lines, ys, x0, x1, size):
    for k, (s, y) in enumerate(zip(lines, ys)):
        para_line(s, x0, x1, y, size, justify=(k != len(lines) - 1))


# ------------------------------------------------------------------ header
text(header_left, 106, 186, 28, family=SANS)
text(header_mid[0], 1160, 186, 28, family=SANS, xanchor="center")
text(header_mid[1], 1160, 221, 28, family=SANS, xanchor="center")
text(page_no, 2201, 190, 40, family=SERIF, xanchor="right")
shp.append(dict(type="line", xref="paper", yref="paper", x0=fx(104), x1=fx(2204), y0=fy(243), y1=fy(243),
                line=dict(color="#111", width=7)))

# ------------------------------------------------------------------ Abb. 4-7
x47 = [fx(199), fx(1095)]
panels47 = [
    (1, 329, 536, [965.4, 1029.6], [980, 1000, 1020], 1),
    (2, 536, 744, [-0.82, 0.80], [-0.5, 0, 0.5], 0.1),
    (3, 744, 1006, [-8.0, 8.0], [-5, 0, 5], 1),
    (4, 1006, 1182, [85.3, 100.0], [90, 100], 2),
]
for (i, top, bot, rng, tv, mdt) in panels47:
    xkw = dict(range=[12, 31], showline=True, mirror="ticks", linecolor="#333", linewidth=2,
               ticks="inside", ticklen=10, tickwidth=1.5, tickcolor="#333",
               tickmode="array", tickvals=[15, 20, 25, 30], ticktext=["15", "20", "25", "30"],
               showticklabels=(i == 4),
               minor=dict(ticks="inside", ticklen=10, tickwidth=1.5, tickcolor="#333",
                          tickmode="linear", tick0=0, dtick=1),
               tickfont=dict(family=NARROW, size=30, color=INK))
    ykw = dict(range=rng, showline=True, mirror="ticks", linecolor="#333", linewidth=2,
               ticks="inside", ticklen=12, tickwidth=1.5, tickcolor="#333",
               tickmode="array", tickvals=tv, ticktext=[("%g" % v) for v in tv],
               tickfont=dict(family=NARROW, size=30, color=INK),
               minor=dict(ticks="inside", ticklen=6, tickwidth=1, tickcolor="#666",
                          tickmode="linear", tick0=0, dtick=mdt))
    add_axes(i, x47, [fy(bot), fy(top)], xkw, ykw)

for yb in (536, 744, 1006):
    shp.append(dict(type="line", xref="paper", yref="paper", x0=fx(199), x1=fx(1095), y0=fy(yb), y1=fy(yb),
                    line=dict(color="#222", width=4)))
for i in (2, 3):
    xs, ys = ids(i)
    shp.append(dict(type="line", xref=xs + " domain", yref=ys, x0=0, x1=1, y0=0, y1=0,
                    line=dict(color="#8a8a8a", width=3), layer="below"))

line_trace(1, p_days, p_hpa, "#3c3c3c", 2)
line_trace(2, v_days, v_ms, "#c9483f", 1.6)
line_trace(2, u_days, u_ms, "#333333", 1.6)
line_trace(3, div_days, div_raw, "#3a3a3a", 1.3)
line_trace(3, divs_days, div_smooth, "#111111", 3.5)
msize = [0] + [12] * (len(conc_days) - 2) + [0]
for vals, col in ((conc_black, "#111111"), (conc_blue, "#2b4d9e")):
    fig.add_trace(go.Scatter(x=conc_days, y=vals, xaxis="x4", yaxis="y4", mode="lines+markers",
                             line=dict(color=col, width=1.6), marker=dict(color=col, size=msize),
                             hoverinfo="skip"))

text("Luftdruck (hPa)", 281, 484, 31, family=NARROW)
text("(Boje 4)", 281, 517, 18, family=NARROW)
text("Eisdrift (m/s)", 277, 575, 31, family=NARROW)
text("(Boje 4)", 277, 606, 18, family=NARROW)
text("u-Komp.", 1033, 607, 20, family=NARROW, xanchor="right")
text("v-Komp.", 974, 713, 21, family=NARROW, color="#c9483f")
text("Eisdriftdivergenz (10<sup>-6</sup> s<sup>-1</sup>)", 277, 782, 31, family=NARROW)
text("(Bojendreieck 4-5-7)", 277, 822, 20, family=NARROW)
text("Eiskonzentration (%)", 279, 1132, 31, family=NARROW)
text("März 2007", 687, 1240, 27, family=NARROW, xanchor="center")
ann.append(dict(text="Zyklone", x=23.84, y=999.8, xref="x", yref="y", ax=0, ay=-58,
                showarrow=True, arrowhead=2, arrowsize=1, arrowwidth=1.4, arrowcolor="#444",
                font=dict(family=NARROW, size=32, color=INK)))

# ------------------------------------------------------------------ Abb. 4-8
x48 = [fx(1312), fx(2166)]
common_x48 = dict(range=[-9, 9], showline=True, mirror=True, linecolor="#111", linewidth=2.5,
                  ticks="outside", ticklen=14, tickwidth=2, tickcolor="#111",
                  tickmode="array", tickvals=[-9, -6, -3, 0, 3, 6, 9],
                  ticktext=["-9", "-6", "-3", "0", "3", "6", "9"],
                  minor=dict(ticks="outside", ticklen=14, tickwidth=2, tickcolor="#111",
                             tickmode="linear", tick0=0, dtick=1))
add_axes(5, x48, [fy(966), fy(339)],
         dict(common_x48, showticklabels=False),
         dict(range=[0, 8], showline=True, mirror="ticks", linecolor="#111", linewidth=2.5,
              ticks="outside", ticklen=14, tickwidth=2, tickcolor="#111",
              tickmode="array", tickvals=list(range(0, 9)), ticktext=[str(k) for k in range(0, 9)],
              tickfont=dict(family=SANS, size=33, color=INK),
              minor=dict(ticks="inside", ticklen=7, tickwidth=1.5, tickcolor="#111",
                         tickmode="linear", tick0=0, dtick=0.25)))
add_axes(6, x48, [fy(1631), fy(1005)],
         dict(common_x48, tickfont=dict(family=SANS, size=33, color=INK)),
         dict(range=[-2, 4], showline=True, mirror="ticks", linecolor="#111", linewidth=2.5,
              ticks="outside", ticklen=14, tickwidth=2, tickcolor="#111",
              tickmode="array", tickvals=list(range(-2, 5)), ticktext=[str(k) for k in range(-2, 5)],
              tickfont=dict(family=SANS, size=33, color=INK),
              minor=dict(ticks="inside", ticklen=7, tickwidth=1.5, tickcolor="#111",
                         tickmode="linear", tick0=0, dtick=0.2)))

shp.append(dict(type="line", xref="x6 domain", yref="y6", x0=0, x1=1, y0=0, y1=0,
                line=dict(color="#111", width=1.6)))
order = [1, 8, 6, 9, 4, 3, 7, 5, 2, 0]
for k in order:
    line_trace(5, hours, vort_series[k], tri_colors[k], 2.3)
    line_trace(6, hours, div_series[k], tri_colors[k], 2.3)
shp.append(dict(type="line", xref="x5", yref="y5", x0=0, x1=0, y0=0, y1=7.64, line=dict(color="#000", width=4)))
shp.append(dict(type="line", xref="x6", yref="y6", x0=0, x1=0, y0=-2, y1=3.74, line=dict(color="#000", width=4)))
for i, vals in ((5, vort_mean), (6, div_mean)):
    xs, ys = ids(i)
    fig.add_trace(go.Scatter(x=hours, y=vals, xaxis=xs, yaxis=ys, mode="markers", cliponaxis=False,
                             marker=dict(symbol="x-thin", size=16, line=dict(color="#000", width=2.6)),
                             hoverinfo="skip"))

text("Vorticity (10<sup>-7</sup> s<sup>-1</sup>)", 1239, 653, 33, angle=-90, xanchor="center")
text("Divergenz (10<sup>-7</sup> s<sup>-1</sup>)", 1239, 1318, 33, angle=-90, xanchor="center")
text("Zeit (h) relativ zum Vorticitymaximum", 1736, 1712, 33, xanchor="center")

# legend table
shp.append(dict(type="rect", xref="paper", yref="paper", x0=fx(1896), x1=fx(2128), y0=fy(642), y1=fy(351),
                line=dict(color="#222", width=2), fillcolor="white"))
shp.append(dict(type="line", xref="paper", yref="paper", x0=fx(1896), x1=fx(2128), y0=fy(412), y1=fy(412),
                line=dict(color="#222", width=2)))
shp.append(dict(type="line", xref="paper", yref="paper", x0=fx(2027), x1=fx(2027), y0=fy(642), y1=fy(351),
                line=dict(color="#222", width=2)))
text("Bojen-", 1960, 369, 22, xanchor="center")
text("dreieck", 1960, 395, 22, xanchor="center")
text("Zyklonen-", 2031, 369, 22)
text("anzahl", 2031, 396, 22)
for r, (tri, cnt, col) in enumerate(zip(triangles, cyclone_counts, tri_colors)):
    yy = 428 + r * 22.2
    text(str(tri[0]), 1915, yy, 23, color=col, xanchor="center")
    text(str(tri[1]), 1963, yy, 23, color=col, xanchor="center")
    text(str(tri[2]), 2019, yy, 23, color=col, xanchor="right")
    text(str(cnt), 2076, yy, 23, color=col, xanchor="center")

# ------------------------------------------------------------------ Abb. 4-9  (dy: small downward shift)
dy = 8
x49 = [fx(893), fx(1718)]
xbase = dict(range=[0, 90], showline=True, linecolor="#555", linewidth=3, ticks="outside", ticklen=16,
             tickwidth=2.5, tickcolor="#555", tickmode="array", tickvals=[0, 20, 40, 60, 80],
             ticktext=["0", "20", "40", "60", "80"], showticklabels=False,
             minor=dict(ticks="outside", ticklen=10, tickwidth=2, tickcolor="#555",
                        tickmode="linear", tick0=0, dtick=2.5))
ybase = dict(showline=False, ticks="outside", ticklen=11, tickwidth=2, tickcolor="#555",
             tickmode="array", tickfont=dict(family=NARROW, size=40, color=INK))
add_axes(7, x49, [fy(2365 + dy), fy(2154 + dy)], dict(xbase),
         dict(ybase, range=[999.02, 1002.59], tickvals=[1000, 1002], ticktext=["1000", "1002"],
              minor=dict(ticks="outside", ticklen=6, tickwidth=1.5, tickcolor="#555", tickmode="array",
                         tickvals=[999.2, 999.4, 999.6, 999.8, 1000.2, 1000.4, 1000.6, 1000.8, 1001.0,
                                   1001.2, 1001.4, 1001.6, 1001.8])))
add_axes(8, x49, [fy(2591 + dy), fy(2375 + dy)], dict(xbase),
         dict(ybase, range=[-30, 6.8], tickvals=[-30, 0], ticktext=["-30", "0"],
              minor=dict(ticks="outside", ticklen=11, tickwidth=2, tickcolor="#555", tickmode="array",
                         tickvals=[-25, -20, -15, -10, -5])))
add_axes(9, x49, [fy(2850 + dy), fy(2610 + dy)], dict(xbase, anchor="free", position=fy(2815 + dy)),
         dict(ybase, range=[2.99, 16.78], tickvals=[15], ticktext=["15"],
              minor=dict(ticks="outside", ticklen=11, tickwidth=2, tickcolor="#555", tickmode="array",
                         tickvals=list(range(5, 15)))))
add_axes(10, x49, [fy(3068 + dy), fy(2855 + dy)],
         dict(xbase, anchor="free", position=fy(3041 + dy), showticklabels=True,
              tickfont=dict(family=NARROW, size=40, color=INK)),
         dict(ybase, range=[-48.4, 96.8], tickvals=[0, 90], ticktext=["0", "90"],
              minor=dict(ticks="outside", ticklen=11, tickwidth=2, tickcolor="#555", tickmode="array",
                         tickvals=[-30, -15, 15, 30, 45, 60, 75])))

shp.append(dict(type="rect", xref="x7", yref="paper", x0=front_zone_km[0], x1=front_zone_km[1],
                y0=fy(2600 + dy), y1=fy(2154 + dy), fillcolor="#edf5f5", line=dict(width=0), layer="below"))
shp.append(dict(type="rect", xref="x7", yref="paper", x0=front_zone_km[0], x1=front_zone_km[1],
                y0=fy(3064 + dy), y1=fy(2600 + dy), fillcolor="#e8ecec", line=dict(width=0), layer="below"))
shp.append(dict(type="rect", xref="x7", yref="paper", x0=front_zone_km[0], x1=front_zone_km[1],
                y0=fy(2165 + dy), y1=fy(2154 + dy), fillcolor="#d8ecec", line=dict(width=0), layer="below"))
shp.append(dict(type="rect", xref="x7", yref="paper", x0=front_zone_km[0], x1=front_zone_km[1],
                y0=fy(3064 + dy), y1=fy(2154 + dy), fillcolor="rgba(0,0,0,0)", line=dict(color="#222", width=1.5)))
shp.append(dict(type="line", xref="x7", yref="paper", x0=front_line_km, x1=front_line_km,
                y0=fy(3043 + dy), y1=fy(2187 + dy), line=dict(color="#111", width=6, dash="dash")))
for i, lo, hi in ((7, 999.02, 1002.05), (8, -30, 0), (9, 5, 15.3), (10, -30, 90)):
    xs, ys = ids(i)
    shp.append(dict(type="line", xref=xs + " domain", yref=ys, x0=0, x1=0, y0=lo, y1=hi,
                    line=dict(color="#555", width=2.5)))

line_trace(7, p_km, p_air, "#111111", 2.6)
line_trace(8, ts_km, t_surface, "#9a9a9a", 2.4)
line_trace(8, t_km, t_air, "#111111", 2.6)
line_trace(9, ff_km, ff_ms, "#111111", 2.2)
line_trace(10, dd_km, dd_deg, "#111111", 2.2)
marker_trace(9, front_zone_km, [14.2, 14.2], "triangle-down", 11, "#222")

text("P (hPa)", 772, 2233 + dy, 32, angle=-90, xanchor="center")
text("T (°C)", 772, 2497 + dy, 32, angle=-90, xanchor="center")
text("FF (m/s)", 772, 2705 + dy, 32, angle=-90, xanchor="center")
text("DD (°)", 772, 2950 + dy, 32, angle=-90, xanchor="center")
text("km", 1694, 3087 + dy, 40, family=NARROW)

# ------------------------------------------------------------------ front sketch (schematic units)
add_axes(11, [fx(1780), fx(2180)], [fy(2990 + dy), fy(2240 + dy)],
         dict(range=[-0.92, 3.68], visible=False), dict(range=[-0.644, 7.977], visible=False))
sketch_left, sketch_right = -0.68, 2.64
t_prof_x = [sketch_left, 0, 1, sketch_right]
t_prof_y = [3.95, 3.95, 4.56, 4.56]
ff_prof_x = [sketch_left, 0, 1, 2, sketch_right]
ff_prof_y = [3.48, 3.48, 2.86, 3.41, 3.41]
dd_prof_x = [sketch_left, 1, 1, sketch_right]
dd_prof_y = [1.85, 1.85, 2.33, 2.33]
conv_prof_x = [sketch_left, 1, 1, 2, 2, sketch_right]
conv_prof_y = [1.24, 1.24, 0.87, 0.87, 1.24, 1.24]
vort_prof_x = [sketch_left, 0, 0, 1, 1, sketch_right]
vort_prof_y = [0.0, 0.0, 0.31, 0.31, 0.0, 0.0]

shp.append(dict(type="rect", xref="x11", yref="y11", x0=-0.02, x1=2.07, y0=-0.39, y1=7.70,
                fillcolor="#eceeee", line=dict(color="#555", width=2), layer="below"))
shp.append(dict(type="line", xref="x11", yref="y11", x0=0, x1=0, y0=-0.30, y1=6.37, line=dict(color="#111", width=4)))
shp.append(dict(type="line", xref="x11", yref="y11", x0=1, x1=1, y0=-0.27, y1=7.45, line=dict(color="#111", width=1.8)))
shp.append(dict(type="line", xref="x11", yref="y11", x0=1, x1=1, y0=5.71, y1=6.98, line=dict(color="#111", width=5)))
shp.append(dict(type="line", xref="x11", yref="y11", x0=1.99, x1=1.99, y0=-0.29, y1=7.23, line=dict(color="#333", width=1.6)))
shp.append(dict(type="line", xref="x11", yref="y11", x0=2.025, x1=2.025, y0=-0.29, y1=7.23, line=dict(color="#333", width=1.6)))
shp.append(dict(type="line", xref="x11", yref="y11", x0=sketch_left, x1=2.55, y0=6.37, y1=6.37,
                line=dict(color="#111", width=1.6)))
shp.append(dict(type="line", xref="x11", yref="y11", x0=1.52, x1=2.0, y0=6.48, y1=6.48,
                line=dict(color="#111", width=3)))
shp.append(dict(type="circle", xref="x11", yref="y11", x0=0.62, x1=1.38, y0=5.03, y1=5.71,
                fillcolor="#f4f4f4", line=dict(color="#111", width=2)))
for px_, py_ in ((t_prof_x, t_prof_y), (ff_prof_x, ff_prof_y), (dd_prof_x, dd_prof_y),
                 (conv_prof_x, conv_prof_y), (vort_prof_x, vort_prof_y)):
    line_trace(11, px_, py_, "#111111", 3.6)
marker_trace(11, [0.93, 0.93], [6.24, 5.94], ["triangle-left", "circle"], [13, 12])
marker_trace(11, [2.6], [6.37], "triangle-right", 13)
marker_trace(11, [1.0], [7.5], "triangle-up", 12)
marker_trace(11, [0.0], [5.98], "triangle-down", 17)
marker_trace(11, [1.48], [6.48], "triangle-left", 15)


def sk_text(s, x, y, size, xanchor="left", bold=True):
    ann.append(dict(text=("<b>%s</b>" % s) if bold else s, x=x, y=y, xref="x11", yref="y11", showarrow=False,
                    xanchor=xanchor, yanchor="middle", font=dict(family=SANS, size=size, color="#111")))


sk_text("L", 1.0, 5.37, 34, xanchor="center")
sk_text("Y<sub>F</sub>", 1.12, 7.34, 26)
sk_text("X<sub>F</sub>", 2.70, 6.30, 28)
sk_text("T", 2.66, 4.56, 25)
sk_text("FF", 2.66, 3.41, 25)
sk_text("DD", 2.66, 2.33, 25)
sk_text("0 Conv.", 2.66, 1.24, 25)
sk_text("0 Vort.", 2.66, 0.0, 25)
sk_text("Conv.<br>max.", 1.48, 1.29, 18, xanchor="center")
sk_text("Vort.<br>max.", 0.40, -0.08, 18, xanchor="center")

# ------------------------------------------------------------------ running text
paragraph(caption47, [1300, 1344, 1389, 1434, 1479], 105, 1095, 36)
paragraph(body1, [1593, 1643, 1694, 1745, 1796, 1846, 1897], 105, 1095, 40)
paragraph(caption48, [1779, 1825, 1870, 1915, 1960, 2005, 2051], 1213, 2198, 36)
body2_y = [1997 + k * 51.2 for k in range(23)] + [3224, 3275, 3326]
for k, (s, y) in enumerate(zip(body2, body2_y)):
    right = 1095 if k < 2 else 672
    para_line(s, 105, right, y, 40 if k < 2 else 42, justify=(k != 22))
paragraph(caption49, [3147, 3192, 3237, 3283, 3328], 728, 2200, 36)

layout["annotations"] = ann
layout["shapes"] = shp
fig.update_layout(**layout)
fig.write_html("out.html", config={"displayModeBar": False},
               post_script="document.body.style.margin='0';document.body.style.padding='0';"
                           "document.documentElement.style.overflow='hidden';")
